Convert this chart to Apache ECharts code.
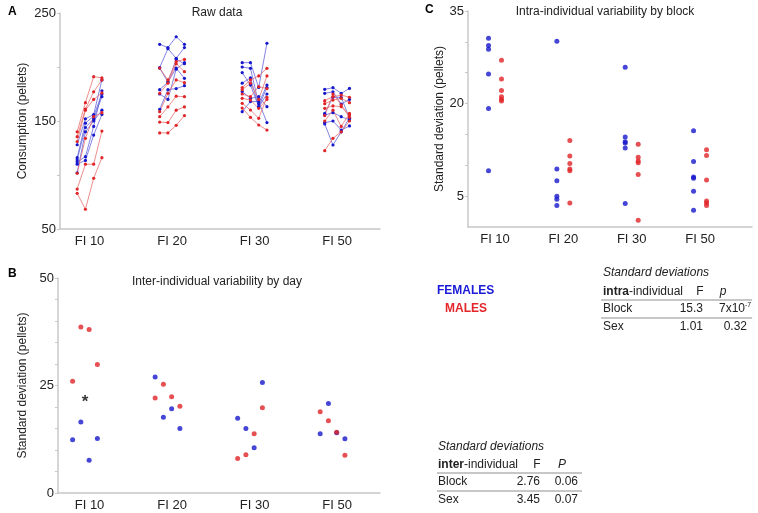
<!DOCTYPE html>
<html><head><meta charset="utf-8">
<script src="https://cdn.jsdelivr.net/npm/echarts@6/dist/echarts.min.js"></script>
<style>html,body{margin:0;padding:0;background:#fff}#c{width:758px;height:513px}</style>
</head><body><div id="c"></div>
<script>
// ---------- DATA ----------
const blocks = ['FI 10', 'FI 20', 'FI 30', 'FI 50'];
const yTicksA = [50, 150, 250];
const yTicksB = [0, 25, 50];
const yTicksC = [5, 20, 35];

// Panel A: raw consumption (pellets), one row per animal, 4 days per block
const rawF_FI10 = [[128,152,156,188],[116,148,154.6,175],[114,144,152,172.5],[112,117,145,178],[110,113.5,137,156],[102,140,150,160]];
const rawM_FI10 = [[140,167,191,190],[135.5,161,177,188],[131,160,170,176],[101.6,134,154,157.7],[87,110,110,140.7],[83,68.3,97,116]];
const rawF_FI20 = [[221,218,228,221],[199.5,217,208,218],[199,186,207,203],[179,186,199,189.5],[160.8,179,180,182.7],[175,170,198,204]];
const rawM_FI20 = [[199,188,205,207],[175.6,185,203,195.7],[158.6,175.6,188,185.5],[154,163,173,172.5],[149,148.5,160,163],[139,139,146,155]];
const rawF_FI30 = [[204,204,181,222],[200,198.8,166,183.3],[194.8,183.3,163.3,181],[177.2,171,172.5,163.3],[158.6,168,168,148.5],[185,190,163,175]];
const rawM_FI30 = [[181,188,191.7,198.8],[179,185,170,191.7],[175,172.5,181.8,180],[171,169.4,161.7,170],[166.4,160.2,152.5,172],[162,153.4,146.3,141.6]];
const rawF_FI50 = [[179.3,180.9,175.6,180.2],[175.6,177,165.7,170],[157,172,172,152.5],[155.6,157.7,154,151],[148.5,150,141.6,145.4],[147.3,127.8,140,153]];
const rawM_FI50 = [[168.8,172.5,174,172],[166,169.4,171,167],[161.7,164,163.3,155.6],[155,175,165,153.4],[150,160,145,157],[122.5,134,140,150]];

// Panel B: inter-individual SD by day (4 days per block)
const interF = [[12.4,16.5,7.6,12.7],[27.0,17.6,19.6,15.0],[17.4,15.0,10.5,25.7],[13.8,20.8,14.0,12.6]];
const interM = [[26.0,38.6,38.0,29.9],[22.1,25.3,22.4,20.2],[8.0,8.9,13.8,19.8],[18.9,16.8,14.1,8.8]];
const starMark = { block: 0, value: 21.8 };

// Panel C: intra-individual SD by block (one per animal)
const intraF = [[30.6,29.4,28.8,24.8,19.2,9.1],[30.1,9.4,7.5,5.0,4.5,3.5],[25.9,14.6,13.8,13.6,12.8,3.8],[15.6,10.6,8.1,7.9,5.8,2.7]];
const intraM = [[27.0,24.0,22.1,21.1,20.7,20.4],[14.0,11.5,10.3,9.4,9.1,3.9],[13.4,11.3,10.7,10.4,8.5,1.1],[12.5,11.6,7.6,4.2,3.9,3.5]];

// ---------- STYLE ----------
const FF = '"Liberation Sans", Arial, sans-serif';
const BLUE = '#1616cc', RED = '#e02428';
const BLUE_L = '#6464dc', RED_L = '#ea7070';
const AXIS = '#c8c8c8', TXT = '#222';

const chart = echarts.init(document.getElementById('c'), null, { renderer: 'canvas' });

const dayGap = 0.1;
function dayX(b, d, shift) { return b + 1 + shift + (d - 1.5) * dayGap; }

function xAxisCfg(grid, min, max) {
  return {
    type: 'value', gridIndex: grid, min, max,
    axisLine: { show: true, onZero: false, lineStyle: { color: AXIS, width: 1.5 } },
    axisTick: { show: false },
    splitLine: { show: false },
    axisLabel: { customValues: [1, 2, 3, 4], formatter: v => blocks[Math.round(v) - 1], color: TXT, fontSize: 13, fontFamily: FF, margin: 6 }
  };
}
function yAxisCfg(grid, min, max, labels, ticks, name, gap) {
  return {
    type: 'value', gridIndex: grid, min, max,
    name, nameLocation: 'middle', nameGap: gap, nameTextStyle: { color: TXT, fontSize: 12, fontFamily: FF },
    axisLine: { show: true, onZero: false, lineStyle: { color: AXIS, width: 1.5 } },
    axisTick: { show: true, customValues: ticks, length: 3, lineStyle: { color: AXIS } },
    splitLine: { show: false },
    axisLabel: { customValues: labels, color: TXT, fontSize: 13, fontFamily: FF, margin: 4 }
  };
}

const series = [];
const rawSets = [[rawF_FI10, rawM_FI10], [rawF_FI20, rawM_FI20], [rawF_FI30, rawM_FI30], [rawF_FI50, rawM_FI50]];
rawSets.forEach(([fem, mal], b) => {
  [[fem, BLUE, BLUE_L], [mal, RED, RED_L]].forEach(([rows, c, cl]) => {
    rows.forEach(row => {
      series.push({
        type: 'line', xAxisIndex: 0, yAxisIndex: 0, silent: true,
        data: row.map((v, d) => [dayX(b, d, 0), v]),
        symbol: 'circle', symbolSize: 3.2, showSymbol: true,
        itemStyle: { color: c }, lineStyle: { color: cl, width: 0.8 }
      });
    });
  });
});

// Panel B
const bShift = -0.055;
series.push({
  type: 'scatter', xAxisIndex: 1, yAxisIndex: 1, symbolSize: 5, itemStyle: { color: BLUE },
  data: interF.flatMap((row, b) => row.map((v, d) => [dayX(b, d, bShift), v]))
});
series.push({
  type: 'scatter', xAxisIndex: 1, yAxisIndex: 1, symbolSize: 5, itemStyle: { color: RED },
  data: interM.flatMap((row, b) => row.map((v, d) => [dayX(b, d, bShift), v]))
});
series.push({
  type: 'scatter', xAxisIndex: 1, yAxisIndex: 1, symbolSize: 1, itemStyle: { color: 'rgba(0,0,0,0)' },
  label: { show: true, position: 'inside', formatter: '*', color: '#000', fontSize: 17, fontWeight: 'bold', fontFamily: FF, offset: [0, 3] },
  data: [[starMark.block + 1 + bShift, starMark.value]]
});

// Panel C
series.push({
  type: 'scatter', xAxisIndex: 2, yAxisIndex: 2, symbolSize: 5, itemStyle: { color: BLUE },
  data: intraF.flatMap((row, b) => row.map(v => [b + 1 - 0.095, v]))
});
series.push({
  type: 'scatter', xAxisIndex: 2, yAxisIndex: 2, symbolSize: 5, itemStyle: { color: RED },
  data: intraM.flatMap((row, b) => row.map(v => [b + 1 + 0.095, v]))
});

function T(x, y, text, o) {
  return { type: 'text', x, y, silent: true, style: Object.assign({ text, fill: TXT, fontSize: 12, fontFamily: FF, textVerticalAlign: 'middle', textAlign: 'left' }, o || {}) };
}
function L(x1, y1, x2, y2) {
  return { type: 'line', silent: true, shape: { x1, y1, x2, y2 }, style: { stroke: '#b4b4b4', lineWidth: 1.5 } };
}

const graphic = [
  T(8, 12, 'A', { fontWeight: 'bold', fill: '#000' }),
  T(8, 274, 'B', { fontWeight: 'bold', fill: '#000' }),
  T(425, 10, 'C', { fontWeight: 'bold', fill: '#000' }),
  T(217, 13, 'Raw data', { textAlign: 'center' }),
  T(217, 282, 'Inter-individual variability by day', { textAlign: 'center' }),
  T(605, 12, 'Intra-individual variability by block', { textAlign: 'center' }),
  T(437, 291, 'FEMALES', { fill: '#1a1ad8', fontWeight: 'bold' }),
  T(445, 309, 'MALES', { fill: '#e3262b', fontWeight: 'bold' }),
  // intra table
  T(603, 273, 'Standard deviations', { fontStyle: 'italic' }),
  { type: 'text', x: 603, y: 292, silent: true, style: { text: '{b|intra}-individual', fill: TXT, fontSize: 12, fontFamily: FF, textVerticalAlign: 'middle', rich: { b: { fontWeight: 'bold', fontSize: 12, fontFamily: FF, fill: TXT } } } },
  T(700, 292, 'F', { textAlign: 'center' }),
  T(723, 292, 'p', { textAlign: 'center', fontStyle: 'italic' }),
  L(601, 300, 752, 300),
  T(603, 309, 'Block'),
  T(703, 309, '15.3', { textAlign: 'right' }),
  T(745, 309, '7x10', { textAlign: 'right' }),
  T(745, 305, '-7', { fontSize: 7 }),
  L(601, 318, 752, 318),
  T(603, 327, 'Sex'),
  T(703, 327, '1.01', { textAlign: 'right' }),
  T(747, 327, '0.32', { textAlign: 'right' }),
  // inter table
  T(438, 447, 'Standard deviations', { fontStyle: 'italic' }),
  { type: 'text', x: 438, y: 465, silent: true, style: { text: '{b|inter}-individual', fill: TXT, fontSize: 12, fontFamily: FF, textVerticalAlign: 'middle', rich: { b: { fontWeight: 'bold', fontSize: 12, fontFamily: FF, fill: TXT } } } },
  T(537, 465, 'F', { textAlign: 'center' }),
  T(562, 465, 'P', { textAlign: 'center', fontStyle: 'italic' }),
  L(437, 473, 582, 473),
  T(438, 482, 'Block'),
  T(540, 482, '2.76', { textAlign: 'right' }),
  T(578, 482, '0.06', { textAlign: 'right' }),
  L(437, 491, 582, 491),
  T(438, 500, 'Sex'),
  T(540, 500, '3.45', { textAlign: 'right' }),
  T(578, 500, '0.07', { textAlign: 'right' })
];

chart.setOption({
  animation: false,
  backgroundColor: '#fff',
  grid: [
    { left: 60, top: 13, width: 320, height: 216 },
    { left: 58, top: 278, width: 322, height: 215 },
    { left: 468, top: 11, width: 284, height: 216 }
  ],
  xAxis: [xAxisCfg(0, 0.642, 4.52), xAxisCfg(1, 0.618, 4.52), xAxisCfg(2, 0.605, 4.76)],
  yAxis: [
    yAxisCfg(0, 50, 250, yTicksA, [50, 100, 150, 200, 250], 'Consumption (pellets)', 31),
    yAxisCfg(1, 0, 50, yTicksB, [0,5,10,15,20,25,30,35,40,45,50], 'Standard deviation (pellets)', 29),
    yAxisCfg(2, 0, 35, yTicksC, [5,10,15,20,25,30,35], 'Standard deviation (pellets)', 17)
  ],
  series,
  graphic
});
</script></body></html>
